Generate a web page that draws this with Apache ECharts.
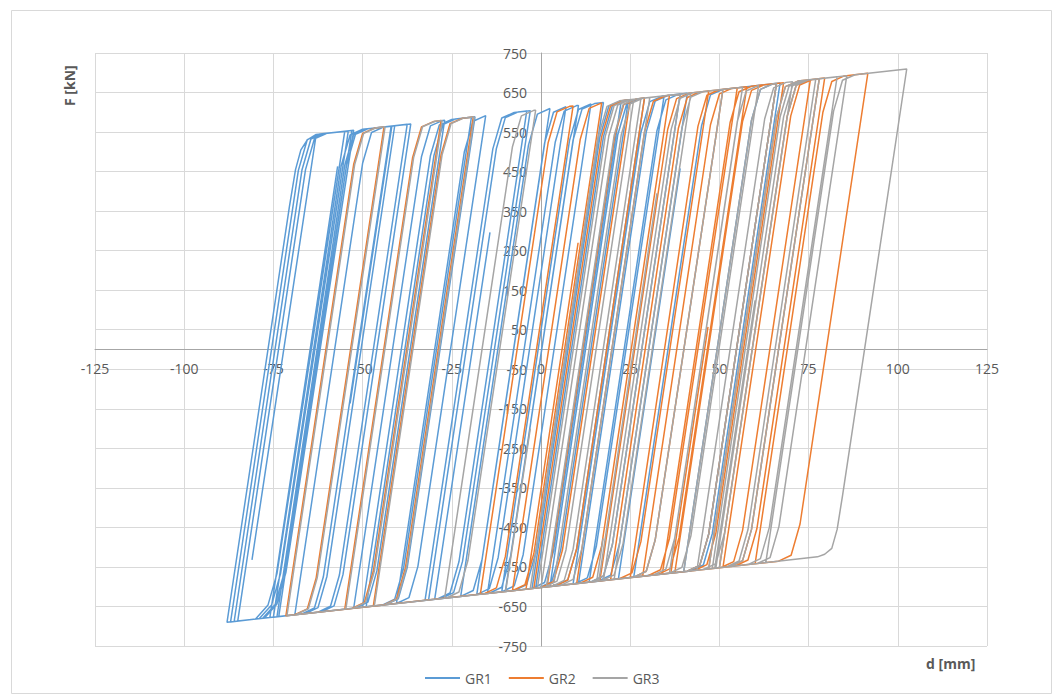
<!DOCTYPE html>
<html>
<head>
<meta charset="utf-8">
<script src="https://cdn.jsdelivr.net/npm/echarts@6/dist/echarts.min.js"></script>
<style>
html,body{margin:0;padding:0;background:#fff;}
#c{width:1058px;height:697px;}
</style>
</head>
<body>
<div id="c"></div>
<script>
// x axis: d [mm], y axis: F [kN]
const seriesNames = ['GR1', 'GR2', 'GR3'];
const xTicks = [-125, -100, -75, -50, -25, 0, 25, 50, 75, 100, 125];
const yTicks = [-750, -650, -550, -450, -350, -250, -150, -50, 50, 150, 250, 350, 450, 550, 650, 750];

// GR1 hysteresis path [d, F]
const gr1 = [
  [40,-562],[59,580],[61.5,658],[65,672],[67,674],[48,-466],[45.5,-545],[42,-560],
  [26,-576],[45,566],[47.5,644],[51,658],[66,673],[47,-467],[44.5,-546],[41,-561],
  [21.7,-580],[39,458],[21.7,-580],
  [13.5,-588.5],[32.5,553.5],[35,631.5],[38.5,645.5],[41,648],[22,-492],[19.5,-571],[16,-586],
  [10.5,-591.5],[29.5,550.5],[32,628.5],[35.5,642.5],[39,646],[20,-494],[17.5,-573],[14,-588],
  [9,-593],[28,549],[30.5,627],[34,641],[34.5,641.5],[15.5,-498.5],[13,-577.5],[9.5,-592.5],
  [2.5,-599.5],[21.5,542.5],[24,620.5],[27.5,634.5],[29,636],[10,-504],[7.5,-583],[4,-598],
  [-1.5,-603.5],[17.5,538.5],[20,616.5],[23.5,630.5],[24.5,631.5],[5.5,-508.5],[3,-587.5],[-0.5,-602.5],
  [-2.5,-604.5],[16.5,537.5],[19,615.5],[22.5,629.5],[3.5,-510.5],[1,-589.5],[-2.5,-604.5],
  [-10,-612],[9,530],[11.5,608],[15,622],[17.5,624.5],[-1.5,-515.5],[-4,-594.5],[-7.5,-609.5],
  [-11,-613],[8,529],[10.5,607],[14,621],[-5,-519],[-7.5,-598],[-11,-613],
  [-15,-617],[4,525],[6.5,603],[10,617],[10.5,617.5],[-8.5,-522.5],[-11,-601.5],[-14.5,-616.5],
  [-18,-620],[1,522],[3.5,600],[7,614],[-12,-526],[-14.5,-605],[-18,-620],
  [-22.5,-624.5],[-3.5,517.5],[-1,595.5],[2.5,609.5],[-16.5,-530.5],[-19,-609.5],[-22.5,-624.5],
  [-31.5,-633.5],[-12.5,508.5],[-10,586.5],[-6.5,600.5],[-3,604],[-22,-536],[-24.5,-615],[-28,-630],
  [-29.8,-632],[-14.3,296],[-29.8,-632],
  [-32.5,-634.5],[-13.5,507.5],[-11,585.5],[-7.5,599.5],[-4,603],[-23,-537],[-25.5,-616],[-29,-631],
  [-40.5,-642.5],[-21.5,499.5],[-19,577.5],[-15.5,591.5],[-34.5,-548.5],[-37,-627.5],[-40.5,-642.5],
  [-49,-651],[-30,491],[-27.5,569],[-24,583],[-18.5,588.5],[-37.5,-551.5],[-40,-630.5],[-43.5,-645.5],
  [-50,-652],[-31,490],[-28.5,568],[-25,582],[-19.5,587.5],[-38.5,-552.5],[-41,-631.5],[-44.5,-646.5],
  [-52.5,-654.5],[-33.5,487.5],[-31,565.5],[-27.5,579.5],[-27,580],[-46,-560],[-48.5,-639],[-52,-654],
  [-69,-671],[-50,471],[-47.5,549],[-44,563],[-36.5,570.5],[-55.5,-569.5],[-58,-648.5],[-61.5,-663.5],
  [-73.5,-675.5],[-54.5,466.5],[-52,544.5],[-48.5,558.5],[-37.5,569.5],[-56.5,-570.5],[-59,-649.5],[-62.5,-664.5],
  [-74,-676],[-55,466],[-52.5,544],[-49,558],[-42,565],[-61,-575],[-63.5,-654],[-67,-669],
  [-75,-677],[-56,465],[-53.5,543],[-50,557],[-41.8,565],[-53.5,-136],[-41.8,565],[-41,566],[-60,-574],[-62.5,-653],[-66,-668],
  [-76,-678],[-57,463],[-76,-678],
  [-85,-687],[-66,455],[-63.5,533],[-60,547],[-52.5,554.5],[-71.5,-564.5],[-74,-643.5],[-77.5,-679.5],
  [-86,-688],[-67,454],[-64.5,532],[-61,546],[-55,552],[-74,-567],[-76.5,-646],[-80,-682],
  [-87,-689],[-68,453],[-65.5,531],[-62,545],[-53,554],[-72,-566],[-74.5,-645],[-78,-680],
  [-88,-690],[-70.5,362],[-68.8,455],[-67.3,505],[-65.5,530],[-63,544],[-81,-532],[-63,544],[-54,553],[-73,-567],[-75.5,-646],[-79,-681]
];

// GR2 hysteresis path [d, F]
const gr2 = [
  [60,-542],[79,600],[81.5,678],[85,692],[91.6,698.6],[72.6,-441.4],[70.1,-520.4],[66.6,-535.4],
  [51,-551],[70,591],[72.5,669],[76,683],[79.5,686.5],[60.5,-453.5],[58,-532.5],[54.5,-547.5],
  [50,-552],[69,590],[71.5,668],[75,682],[78,685],[59,-455],[56.5,-534],[53,-549],
  [47,-555],[66,587],[68.5,665],[72,679],[75.5,682.5],[56.5,-457.5],[54,-536.5],[50.5,-551.5],
  [37.5,-564.5],[56.5,577.5],[59,655.5],[62.5,669.5],[68,675],[49,-465],[46.5,-544],[43,-559],
  [36.4,-565.6],[46.8,57],[36.4,-565.6],
  [34,-568],[53,574],[55.5,652],[59,666],[66,673],[47,-467],[44.5,-546],[41,-561],
  [28.5,-573.5],[47.5,568.5],[50,646.5],[53.5,660.5],[57.7,664.7],[38.7,-475.3],[36.2,-554.3],[32.7,-569.3],
  [25,-577],[44,565],[46.5,643],[50,657],[55,662],[36,-478],[33.5,-557],[30,-572],
  [19.5,-582.5],[38.5,559.5],[41,637.5],[44.5,651.5],[51,658],[32,-482],[29.5,-561],[26,-576],
  [16.5,-585.5],[35.5,556.5],[38,634.5],[41.5,648.5],[47,654],[28,-486],[25.5,-565],[22,-580],
  [10,-592],[29,550],[31.5,628],[35,642],[36,643],[17,-497],[14.5,-576],[11,-591],
  [1.7,-600.3],[20.7,541.7],[23.2,619.7],[26.7,633.7],[29,636],[10,-504],[7.5,-583],[4,-598],
  [-2,-604],[17,538],[19.5,616],[23,630],[25,632],[6,-508],[3.5,-587],[0,-602],
  [-4.2,-606.2],[10.4,270],[-4.2,-606.2],
  [-8,-610],[11,532],[13.5,610],[17,624],[-2,-516],[-4.5,-595],[-8,-610],
  [-17,-619],[2,523],[4.5,601],[8,615],[9,616],[-10,-524],[-12.5,-603],[-16,-618],
  [-47,-649],[-28,493],[-25.5,571],[-22,585],[-19,588],[-38,-552],[-40.5,-631],[-44,-646],
  [-55,-657],[-36,485],[-33.5,563],[-30,577],[-28,579],[-47,-561],[-49.5,-640],[-53,-655],
  [-71.5,-673.5],[-52.5,468.5],[-50,546.5],[-46.5,560.5],[-44,563],[-63,-577],[-65.5,-656],[-69,-671]
];

// GR3 hysteresis path [d, F]
const gr3 = [
  [63,-539],[82,603],[84.5,681],[88,695],[102.5,709.5],[84.5,-370],[83,-455],[81.5,-503],[79.5,-518],[77.5,-524.5],
  [50,-552],[69,590],[71.5,668],[75,682],[85.7,692.7],[66.7,-447.3],[64.2,-526.3],[60.7,-541.3],
  [49,-553],[68,589],[70.5,667],[74,681],[83,690],[64,-450],[61.5,-529],[58,-544],
  [48,-554],[67,588],[69.5,666],[73,680],[78,685],[59,-455],[56.5,-534],[53,-549],
  [48.7,-553.3],[60,124],[48.7,-553.3],
  [47,-555],[66,587],[68.5,665],[72,679],[77,684],[58,-456],[55.5,-535],[52,-550],
  [43.7,-558.3],[62.7,583.7],[65.2,661.7],[68.7,675.7],[70.5,677.5],[51.5,-462.5],[49,-541.5],[45.5,-556.5],
  [40,-562],[59,580],[61.5,658],[65,672],[66,673],[47,-467],[44.5,-546],[41,-561],
  [36,-566],[55,576],[57.5,654],[61,668],[42,-472],[39.5,-551],[36,-566],
  [20.5,-581.5],[39.5,560.5],[42,638.5],[45.5,652.5],[56.5,663.5],[37.5,-476.5],[35,-555.5],[31.5,-570.5],
  [17.5,-584.5],[36.5,557.5],[39,635.5],[42.5,649.5],[51,658],[32,-482],[29.5,-561],[26,-576],
  [16.2,-585.8],[32.5,395],[16.2,-585.8],[15.6,-586.4],[17.4,-478],[15.6,-586.4],
  [3.5,-598.5],[22.5,543.5],[25,621.5],[28.5,635.5],[42,649],[23,-491],[20.5,-570],[17,-585],
  [1.5,-600.5],[20.5,541.5],[23,619.5],[26.5,633.5],[39,646],[20,-494],[17.5,-573],[14,-588],
  [0,-602],[19,540],[21.5,618],[25,632],[30.5,637.5],[11.5,-502.5],[9,-581.5],[5.5,-596.5],
  [-1,-603],[18,539],[20.5,617],[24,631],[28,635],[9,-505],[6.5,-584],[3,-599],
  [-3,-605],[16,537],[18.5,615],[22,629],[26,633],[7,-507],[4.5,-586],[1,-601],
  [-9.9,-611.9],[-3,-200],[-9.9,-611.9],
  [-27,-629],[-8,513],[-5.5,591],[-2,605],[-1.5,605.5],[-20.5,-534.5],[-23,-613.5],[-26.5,-628.5],
  [-46.7,-648.7],[-27.7,493.3],[-25.2,571.3],[-21.7,585.3],[-18.7,588.3],[-37.7,-551.7],[-40.2,-630.7],[-43.7,-645.7],
  [-54.7,-656.7],[-35.7,485.3],[-33.2,563.3],[-29.7,577.3],[-27.7,579.3],[-46.7,-560.7],[-49.2,-639.7],[-52.7,-654.7],
  [-71.2,-673.2],[-52.2,468.8],[-49.7,546.8],[-46.2,560.8],[-43.7,563.3],[-62.7,-576.7],[-65.2,-655.7],[-68.7,-670.7]
];

const colors = ['#5B9BD5', '#ED7D31', '#A5A5A5'];
const dataSets = [gr1, gr2, gr3];

const chart = echarts.init(document.getElementById('c'), null, {renderer: 'svg'});
const FONT = '"Open Sans", "DejaVu Sans", sans-serif';
const GRID = {left: 95, right: 71, top: 53, bottom: 51};
chart.setOption({
  animation: false,
  backgroundColor: '#fff',
  color: colors,
  grid: Object.assign({containLabel: false}, GRID),
  xAxis: {
    type: 'value', min: xTicks[0], max: xTicks[xTicks.length - 1], interval: 25,
    position: 'bottom', offset: -296.5,
    axisLine: {onZero: false, lineStyle: {color: '#A6A6A6', width: 1}},
    axisTick: {show: false},
    axisLabel: {color: '#595959', fontSize: 14, fontFamily: FONT, margin: 12},
    splitLine: {show: true, lineStyle: {color: '#D9D9D9', width: 1}}
  },
  yAxis: {
    type: 'value', min: yTicks[0], max: yTicks[yTicks.length - 1], interval: 100,
    position: 'left', offset: -446,
    axisLine: {show: true, onZero: false, lineStyle: {color: '#A6A6A6', width: 1}},
    axisTick: {show: false},
    axisLabel: {color: '#595959', fontSize: 14, fontFamily: FONT, margin: 14},
    splitLine: {show: true, lineStyle: {color: '#D9D9D9', width: 1}}
  },
  legend: {
    data: seriesNames, left: 425, top: 671, itemWidth: 35, itemHeight: 2, itemGap: 17,
    icon: 'rect', padding: 0,
    textStyle: {color: '#595959', fontSize: 14, fontFamily: FONT}
  },
  graphic: [
    {type: 'rect', left: 9, top: 8, shape: {width: 1040, height: 683}, style: {fill: 'none', stroke: '#D9D9D9', lineWidth: 1}, silent: true, z: -1},
    {type: 'text', left: 926, top: 656, style: {text: 'd [mm]', fill: '#595959', font: 'bold 14px ' + FONT}},
    {type: 'text', x: 62, y: 106, rotation: Math.PI / 2, style: {text: 'F [kN]', fill: '#595959', font: 'bold 14px ' + FONT}}
  ],
  series: seriesNames.map((n, i) => ({
    name: n, type: 'line', data: dataSets[i], showSymbol: false, symbol: 'none',
    lineStyle: {width: 1.5, color: colors[i]}, itemStyle: {color: colors[i]},
    smooth: false, z: 2 + i
  }))
});
</script>
</body>
</html>
